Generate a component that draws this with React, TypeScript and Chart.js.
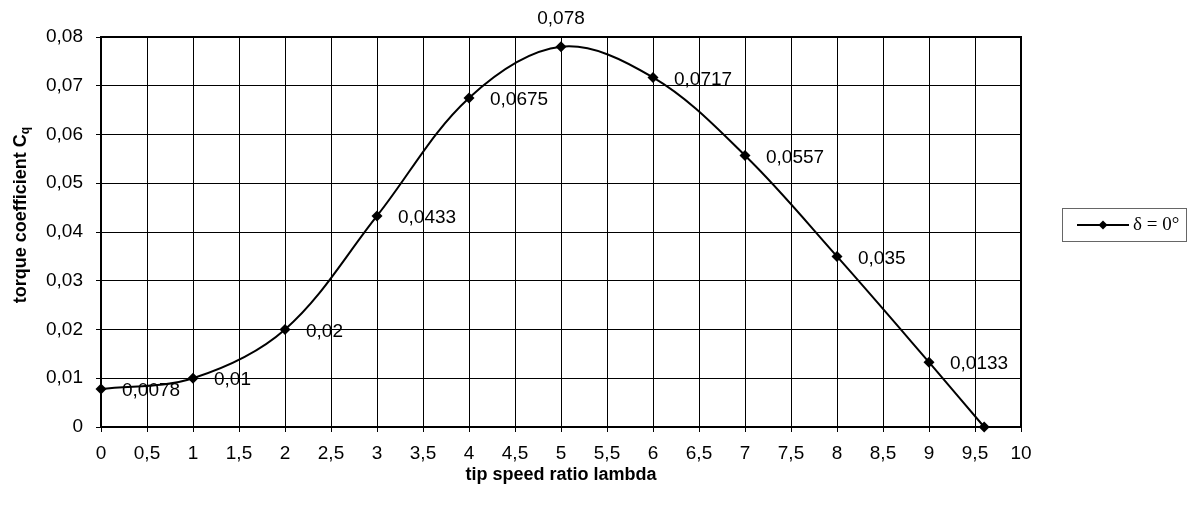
import React, { useEffect, useRef } from "react";
import { Chart, registerables } from "chart.js";

Chart.register(...registerables);

const lambdaValues = [0, 1, 2, 3, 4, 5, 6, 7, 8, 9, 9.6];
const cqValues = [0.0078, 0.01, 0.02, 0.0433, 0.0675, 0.078, 0.0717, 0.0557, 0.035, 0.0133, 0];
const pointLabels = ["0,0078", "0,01", "0,02", "0,0433", "0,0675", "0,078", "0,0717", "0,0557", "0,035", "0,0133", ""];
const seriesName = "δ = 0°";
const xTitle = "tip speed ratio lambda";
const yTitleMain = "torque coefficient C";
const yTitleSub = "q";

const SANS = "'Liberation Sans', Arial, sans-serif";

const fmt = (v: number) => {
  const s = Number(v.toFixed(3)).toString();
  return s.replace(".", ",");
};

const overlayPlugin = {
  id: "overlay",
  afterDatasetsDraw(chart: any) {
    const ctx = chart.ctx as CanvasRenderingContext2D;
    const area = chart.chartArea;
    const xs = chart.scales.x;
    const ys = chart.scales.y;
    ctx.save();
    // plot border
    ctx.strokeStyle = "#000";
    ctx.lineWidth = 2;
    ctx.strokeRect(area.left, area.top, area.right - area.left, area.bottom - area.top);

    // data labels
    ctx.fillStyle = "#000";
    ctx.font = `19px ${SANS}`;
    ctx.textBaseline = "middle";
    lambdaValues.forEach((lx, i) => {
      const label = pointLabels[i];
      if (!label) return;
      const px = xs.getPixelForValue(lx);
      const py = ys.getPixelForValue(cqValues[i]);
      if (i === 5) {
        ctx.textAlign = "center";
        ctx.fillText(label, px, py - 28);
      } else {
        ctx.textAlign = "left";
        ctx.fillText(label, px + 21, py + 2);
      }
    });

    // y title with subscript
    ctx.save();
    ctx.translate(21, 215);
    ctx.rotate(-Math.PI / 2);
    ctx.font = `bold 18px ${SANS}`;
    const mainW = ctx.measureText(yTitleMain).width;
    ctx.font = `bold 12px ${SANS}`;
    const subW = ctx.measureText(yTitleSub).width;
    const total = mainW + subW;
    ctx.textAlign = "left";
    ctx.textBaseline = "middle";
    ctx.font = `bold 18px ${SANS}`;
    ctx.fillText(yTitleMain, -total / 2, 0);
    ctx.font = `bold 12px ${SANS}`;
    ctx.fillText(yTitleSub, -total / 2 + mainW, 5);
    ctx.restore();

    // x title
    ctx.font = `bold 18px ${SANS}`;
    ctx.textAlign = "center";
    ctx.textBaseline = "middle";
    ctx.fillText(xTitle, (area.left + area.right) / 2, 475);

    // legend
    const bx = 1062, by = 208, bw = 124, bh = 33;
    ctx.strokeStyle = "#666";
    ctx.lineWidth = 1;
    ctx.strokeRect(bx + 0.5, by + 0.5, bw, bh);
    const ly = by + 17;
    ctx.strokeStyle = "#000";
    ctx.lineWidth = 2;
    ctx.beginPath();
    ctx.moveTo(bx + 15, ly);
    ctx.lineTo(bx + 67, ly);
    ctx.stroke();
    ctx.fillStyle = "#000";
    ctx.beginPath();
    ctx.moveTo(bx + 41, ly - 4.5);
    ctx.lineTo(bx + 45.5, ly);
    ctx.lineTo(bx + 41, ly + 4.5);
    ctx.lineTo(bx + 36.5, ly);
    ctx.closePath();
    ctx.fill();
    ctx.font = `19px 'Liberation Serif', 'Times New Roman', serif`;
    ctx.textAlign = "left";
    ctx.textBaseline = "middle";
    ctx.fillText(seriesName, bx + 71, ly);
    ctx.restore();
  },
};

export default function App() {
  const ref = useRef<HTMLCanvasElement | null>(null);
  useEffect(() => {
    document.body.style.margin = "0";
    const canvas = ref.current!;
    const chart = new Chart(canvas, {
      type: "line",
      data: {
        datasets: [
          {
            label: seriesName,
            data: lambdaValues.map((x, i) => ({ x, y: cqValues[i] })),
            borderColor: "#000",
            backgroundColor: "#000",
            borderWidth: 2,
            tension: 0.35,
            pointStyle: "rectRot",
            pointRadius: 5.5,
            pointBackgroundColor: "#000",
            pointBorderColor: "#000",
            pointBorderWidth: 0,
            clip: false as any,
          },
        ],
      },
      options: {
        responsive: false,
        animation: false,
        layout: { padding: { left: 0, right: 166, top: 37, bottom: 0 } },
        plugins: {
          legend: { display: false },
          tooltip: { enabled: false },
        },
        scales: {
          x: {
            type: "linear",
            min: 0,
            max: 10,
            afterFit: (s: any) => {
              s.height = 80;
            },
            ticks: {
              stepSize: 0.5,
              autoSkip: false,
              maxRotation: 0,
              padding: 10,
              color: "#000",
              font: { family: SANS, size: 19 },
              callback: (v: any) => fmt(Number(v)),
            },
            grid: { color: "#000", lineWidth: 1, tickLength: 5, drawTicks: true },
            border: { color: "#000", width: 2 },
          },
          y: {
            type: "linear",
            min: 0,
            max: 0.08,
            afterFit: (s: any) => {
              s.width = 101;
            },
            ticks: {
              stepSize: 0.01,
              autoSkip: false,
              padding: 13,
              color: "#000",
              font: { family: SANS, size: 19 },
              callback: (v: any) => fmt(Number(v)),
            },
            grid: { color: "#000", lineWidth: 1, tickLength: 5, drawTicks: true },
            border: { color: "#000", width: 2 },
          },
        },
      },
      plugins: [overlayPlugin],
    });
    return () => chart.destroy();
  }, []);
  return (
    <div style={{ width: 1187, height: 507, position: "relative" }}>
      <canvas ref={ref} width={1187} height={507} style={{ display: "block", width: 1187, height: 507 }} />
    </div>
  );
}
